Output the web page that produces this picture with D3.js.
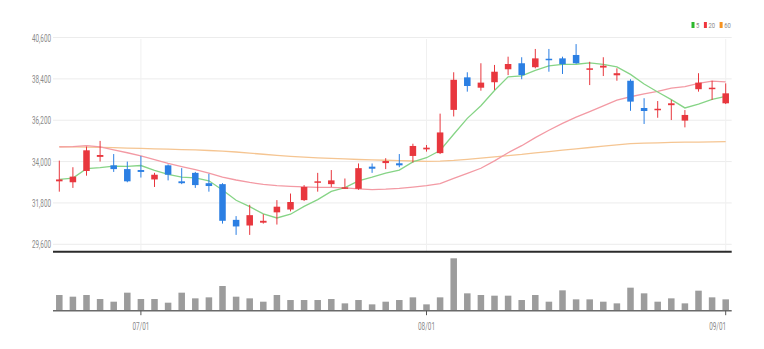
<!DOCTYPE html>
<html>
<head>
<meta charset="utf-8">
<script src="https://cdn.jsdelivr.net/npm/d3@7"></script>
<style>
  html, body { margin: 0; padding: 0; background: #fff; }
  svg { display: block; font-family: Roboto, "DejaVu Sans", sans-serif; }
</style>
</head>
<body>
<svg id="chart" width="764" height="349"></svg>
<script>
// Trading days, 2022-06-23 .. 2022-09-01
const dates = [
  "2022-06-23","2022-06-24","2022-06-27","2022-06-28","2022-06-29","2022-06-30",
  "2022-07-01","2022-07-04","2022-07-05","2022-07-06","2022-07-07","2022-07-08",
  "2022-07-11","2022-07-12","2022-07-13","2022-07-14","2022-07-15","2022-07-18",
  "2022-07-19","2022-07-20","2022-07-21","2022-07-22","2022-07-25","2022-07-26",
  "2022-07-27","2022-07-28","2022-07-29","2022-08-01","2022-08-02","2022-08-03",
  "2022-08-04","2022-08-05","2022-08-08","2022-08-09","2022-08-10","2022-08-11",
  "2022-08-12","2022-08-16","2022-08-17","2022-08-18","2022-08-19","2022-08-22",
  "2022-08-23","2022-08-24","2022-08-25","2022-08-26","2022-08-29","2022-08-30",
  "2022-08-31","2022-09-01"
];

const opens  = [32950,32900,33500,34250,33800,33600,33550,33050,33800,32950,33400,32850,32800,30900,30600,30750,31300,31450,31950,32900,32800,32580,32550,33730,33920,33910,34300,34650,34450,36750,38480,37930,38220,38910,39230,39020,39470,39490,39670,38890,39000,38590,38300,36850,36730,37000,36180,37850,37860,37100];
const highs  = [34050,33700,34800,35100,34400,34000,34300,33400,33850,33650,33450,33350,32850,31100,31700,31200,31950,32300,32750,33400,33550,33100,33900,33900,34180,34400,34950,34880,36550,38750,38750,39230,39140,39580,39550,39990,39990,39580,40250,39310,39550,38960,38380,37370,37220,37280,36740,38700,38300,38160];
const lows   = [32400,32600,33250,34000,33450,32900,33150,32650,33000,32800,32600,32400,30700,30100,30100,30700,30650,31350,31900,32400,32650,32550,32500,33400,33600,33700,33950,34530,34400,36400,37720,37770,37810,38600,38380,38960,38780,38660,39200,38070,38550,38300,36700,36000,36330,36210,35820,37720,37280,37060];
const closes = [33050,33200,34600,34350,33600,32950,33450,33300,33300,32850,32750,32700,30850,30550,31150,30850,31600,31850,32650,32950,33000,32630,33650,33620,34030,33800,34830,34740,35550,38350,38020,38200,38780,39190,38600,39490,39390,39180,39230,38960,39100,38700,37190,36690,36810,37100,36480,38200,37930,37630];
const volumes = [141000,126000,141000,105000,81000,162000,105000,105000,72000,162000,111000,120000,222000,126000,111000,81000,141000,96000,96000,96000,105000,66000,96000,57000,81000,96000,120000,57000,120000,471000,156000,141000,135000,135000,96000,141000,81000,183000,102000,102000,81000,66000,207000,156000,81000,111000,66000,180000,120000,102000];

// Moving averages (5, 20, 60 day)
const ma5  = [33050,33120,33620,33680,33760,33740,33790,33530,33320,33170,33130,32980,32490,31940,31600,31220,31000,31200,31620,31980,32410,32616,32976,33170,33386,33546,33986,34204,34590,35454,36298,36972,37780,38508,38558,38852,39090,39170,39178,39250,39172,39034,38636,38128,37698,37298,36854,37056,37304,37468];
const ma20 = [34780,34800,34850,34780,34620,34470,34300,34100,33900,33730,33570,33390,33170,33020,32890,32790,32720,32680,32650,32628,32625,32597,32549,32513,32534,32577,32646,32718,32830,33105,33369,33644,34040,34472,34845,35277,35666,36033,36362,36662,36967,37271,37448,37601,37740,37905,37988,38161,38280,38244];
const ma60 = [34790,34780,34770,34760,34740,34720,34700,34680,34660,34640,34620,34590,34560,34510,34450,34390,34330,34280,34240,34200,34170,34140,34110,34090,34070,34050,34030,34010,34020,34060,34120,34180,34250,34320,34380,34460,34530,34610,34680,34750,34820,34890,34950,34980,35000,35020,35030,35040,35050,35060];

const priceTicks = [29600, 31800, 34000, 36200, 38400, 40600];
const dateTicks = ["2022-07-01", "2022-08-01", "2022-09-01"];
const dateTickLabels = ["07/01", "08/01", "09/01"];

const maSeries = [
  { name: "5",  values: ma5,  line: "#86d486", key: "#2db82d" },
  { name: "20", values: ma20, line: "#f39aa4", key: "#f0353d" },
  { name: "60", values: ma60, line: "#f5c592", key: "#f7921e" }
];

const UP = "#e8373e", DOWN = "#2b7fe3";

// Layout
const plotL = 53, plotR = 731.7;
const priceTop = 37.5, priceBottom = 244.3, paneSep = 251.7;
const volTop = 258.3, volBase = 310.7;

const svg = d3.select("#chart");

const x = d3.scaleBand().domain(dates).range([52.5, 732.5]).paddingInner(0.52).paddingOuter(0.26);
const cx = d => x(d) + x.bandwidth() / 2;
const y = d3.scaleLinear().domain([29600, 40600]).range([priceBottom, priceTop]);
const yv = d3.scaleLinear().domain([0, d3.max(volumes)]).range([volBase, volTop]);

// Grid
svg.append("g").selectAll("line").data(priceTicks).join("line")
  .attr("x1", plotL).attr("x2", plotR)
  .attr("y1", d => y(d)).attr("y2", d => y(d))
  .attr("stroke", "#ececec").attr("stroke-width", 1);

svg.append("g").selectAll("line").data(dateTicks).join("line")
  .attr("x1", d => cx(d)).attr("x2", d => cx(d))
  .attr("y1", y(40600) + 1.5).attr("y2", paneSep)
  .attr("stroke", "#f0f0f0").attr("stroke-width", 1);

// Price axis labels
svg.append("g").selectAll("text").data(priceTicks).join("text")
  .attr("x", 51).attr("y", d => y(d) + 4)
  .attr("text-anchor", "end")
  .attr("font-size", 11).attr("fill", "#8a8a8a")
  .attr("textLength", 19).attr("lengthAdjust", "spacingAndGlyphs")
  .text(d => d3.format(",")(d));

// Moving average lines
const line = d3.line().x((v, i) => cx(dates[i])).y(v => y(v));
svg.append("g").selectAll("path").data(maSeries.slice().reverse()).join("path")
  .attr("d", s => line(s.values))
  .attr("fill", "none")
  .attr("stroke", s => s.line)
  .attr("stroke-width", 1.3);

// Candles
const candles = svg.append("g").selectAll("g").data(dates).join("g");
candles.append("line")
  .attr("x1", d => cx(d)).attr("x2", d => cx(d))
  .attr("y1", (d, i) => y(highs[i])).attr("y2", (d, i) => y(lows[i]))
  .attr("stroke", (d, i) => closes[i] >= opens[i] ? UP : DOWN)
  .attr("stroke-width", 1);
candles.append("rect")
  .attr("x", d => x(d)).attr("width", x.bandwidth())
  .attr("y", (d, i) => y(Math.max(opens[i], closes[i])))
  .attr("height", (d, i) => Math.max(1.5, Math.abs(y(opens[i]) - y(closes[i]))))
  .attr("fill", (d, i) => closes[i] >= opens[i] ? UP : DOWN);

// Pane separator
svg.append("line")
  .attr("x1", plotL).attr("x2", plotR).attr("y1", paneSep).attr("y2", paneSep)
  .attr("stroke", "#2b2b2b").attr("stroke-width", 2);

// Volume bars
svg.append("g").selectAll("rect").data(dates).join("rect")
  .attr("x", d => x(d)).attr("width", x.bandwidth())
  .attr("y", (d, i) => yv(volumes[i]))
  .attr("height", (d, i) => volBase - yv(volumes[i]))
  .attr("fill", "#9c9c9c");

svg.append("line")
  .attr("x1", plotL).attr("x2", plotR).attr("y1", volBase).attr("y2", volBase)
  .attr("stroke", "#6a6a6a").attr("stroke-width", 1.5);

// Date ticks and labels
svg.append("g").selectAll("line").data(dateTicks).join("line")
  .attr("x1", d => cx(d)).attr("x2", d => cx(d))
  .attr("y1", volBase).attr("y2", volBase + 4.5)
  .attr("stroke", "#555").attr("stroke-width", 1);

const labelW = 17;
svg.append("g").selectAll("text").data(dateTicks).join("text")
  .attr("x", d => Math.min(cx(d), plotR - 5.5 - labelW / 2))
  .attr("y", 330)
  .attr("text-anchor", "middle")
  .attr("font-size", 11).attr("fill", "#8a8a8a")
  .attr("textLength", labelW).attr("lengthAdjust", "spacingAndGlyphs")
  .text((d, i) => dateTickLabels[i]);

// Legend
const legend = svg.append("g");
let lx = 691.5;
maSeries.forEach(s => {
  legend.append("rect").attr("x", lx).attr("y", 22).attr("width", 3).attr("height", 6).attr("fill", s.key);
  const tw = 3.3 * s.name.length;
  legend.append("text").attr("x", lx + 4.6).attr("y", 28)
    .attr("font-size", 8).attr("fill", "#8a8a8a")
    .attr("textLength", tw).attr("lengthAdjust", "spacingAndGlyphs")
    .text(s.name);
  lx += 4.6 + tw + 4.5;
});
</script>
</body>
</html>
